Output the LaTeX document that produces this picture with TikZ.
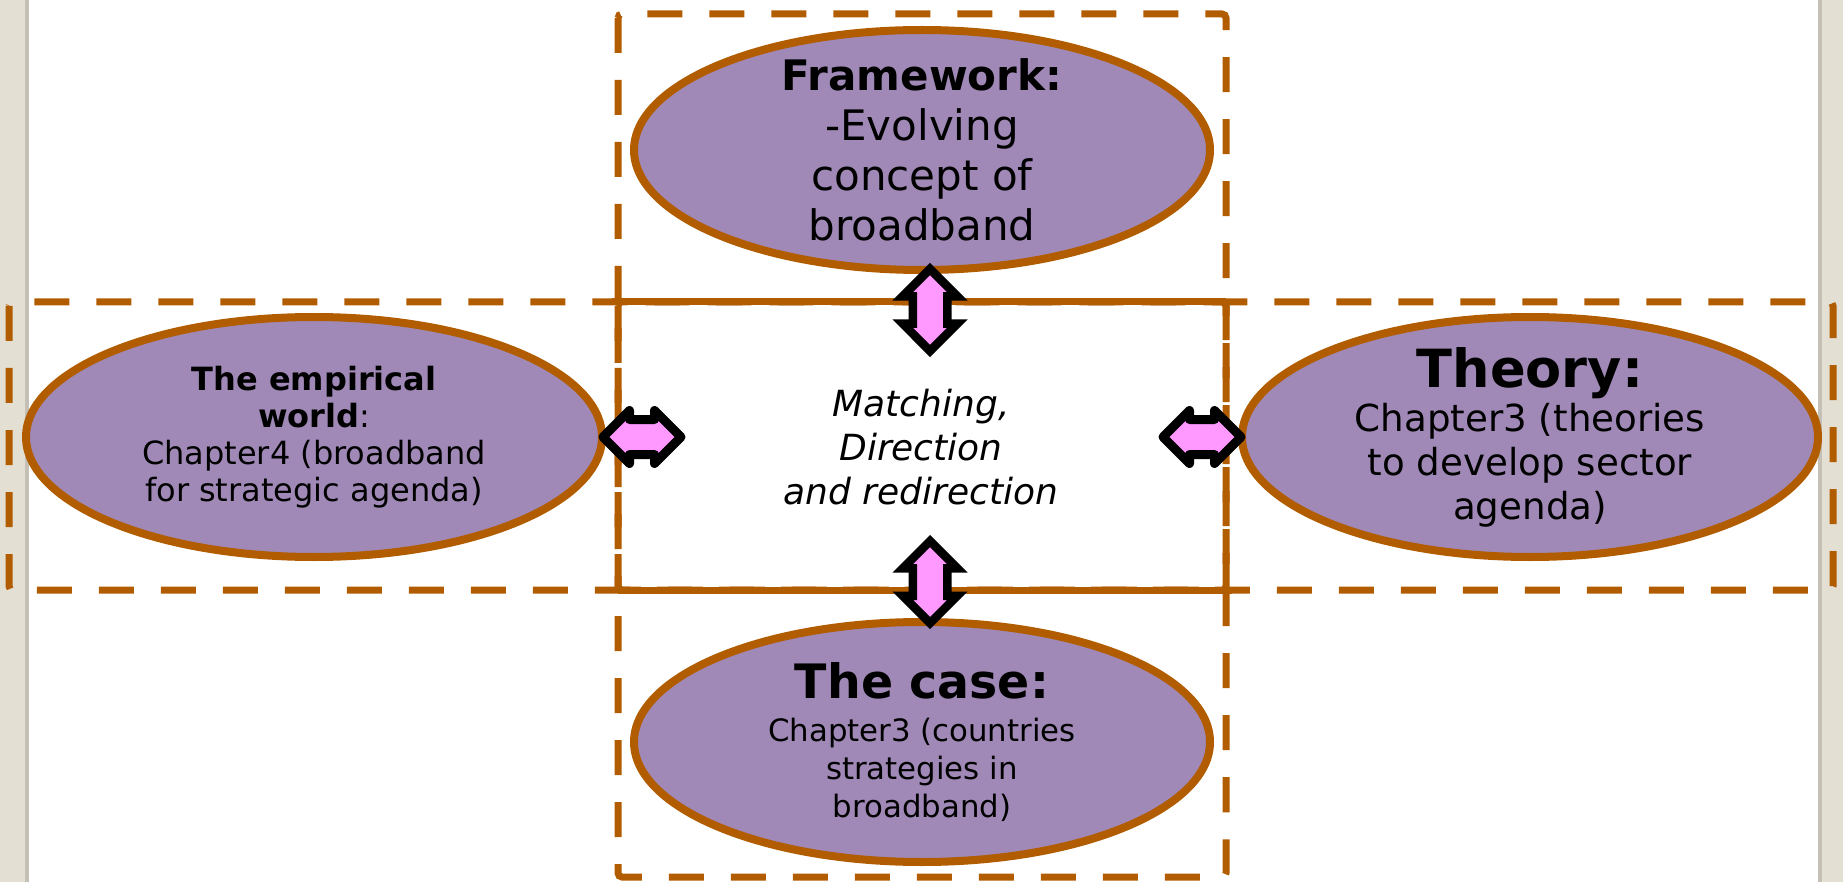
\documentclass[tikz,border=0pt]{standalone}
\usepackage{fontspec}
\setmainfont{DejaVu Sans}
\usetikzlibrary{shapes.geometric,shapes.arrows,calc}
\definecolor{frameorange}{RGB}{178,92,0}
\definecolor{topicfill}{RGB}{160,137,182}
\definecolor{arrowpink}{RGB}{255,153,255}
\definecolor{pagebeige}{RGB}{228,223,211}
\definecolor{pageedge}{RGB}{196,192,182}
\tikzset{
  topic/.style  = {ellipse, draw=frameorange, fill=topicfill, line width=4pt,
                   align=center, inner xsep=0pt, inner ysep=-12pt,
                   minimum width=288pt, minimum height=120pt},
  zone/.style   = {draw=frameorange, line width=3.5pt,
                   dash pattern=on 17.5pt off 13.5pt, rounded corners=2pt},
  link/.style   = {double arrow, draw=black, fill=arrowpink, inner xsep=0pt,
                   inner ysep=6.5pt},
  vlink/.style  = {link, line width=4.25pt, rotate=90,
                   double arrow head extend=5pt, minimum height=41pt},
  hlink/.style  = {link, line width=4.5pt, line join=round,
                   double arrow head extend=4.5pt, minimum height=39pt}
}

\begin{document}
\begin{tikzpicture}[x=0.5pt, y=-0.5pt]

	% page edges
	\useasboundingbox (0,0) rectangle (1843,882);
	\fill[pagebeige] (0,0) rectangle (25,882);
	\fill[pageedge] (25,0) rectangle (29,882);
	\fill[pagebeige] (1820,0) rectangle (1843,882);
	\fill[pageedge] (1818,0) rectangle (1822,882);
	
	% dashed zones: column, row and lower column
	\draw[zone] (618,14) rectangle (1226,590);
	\draw[zone] (9,302) rectangle (1833,590);
	\draw[zone] (618,302) rectangle (1226,877);
	% where the zones overlap the dashes close up
	\draw[frameorange, line width=3.5pt] (612,302) -- (1226,302);
	\draw[frameorange, line width=3.5pt] (618,590) -- (1232,590);
	
	% centre text
	\node[align=center, font=\fontsize{18}{22}\selectfont\itshape] (mid) at (921,447)
	{Matching,\\Direction\\and redirection};
	
	% the four ellipses
	\node[topic, font=\fontsize{21}{25}\selectfont] (fw) at (922,150)
	{{\bfseries Framework:}\\-Evolving\\concept of\\broadband};
	\node[topic, font=\fontsize{16}{18.5}\selectfont] (emp) at (314,437)
	{{\bfseries The empirical}\\{\bfseries world}:\\Chapter4 (broadband\\for strategic agenda)};
	\node[topic, font=\fontsize{18.6}{22}\selectfont] (thy) at (1530,437)
	{{\fontsize{26.3}{30}\selectfont\bfseries Theory:}\\Chapter3 (theories\\to develop sector\\agenda)};
	\node[topic, font=\fontsize{15.4}{19}\selectfont] (case) at (922,742)
	{{\fontsize{23.7}{28}\selectfont\bfseries The case:}\\[2.5pt]Chapter3 (countries\\strategies in\\broadband)};
	
	% double arrows between the ellipses and the centre
	\node[vlink] (arN) at ($(fw.south)+(8,36)$) {};
	\node[vlink] (arS) at ($(case.north)+(8,-36)$) {};
	\node[hlink] (arW) at ($(emp.east)+(36,0)$) {};
	\node[hlink] (arE) at ($(thy.west)+(-36,0)$) {};

\end{tikzpicture}
\end{document}
